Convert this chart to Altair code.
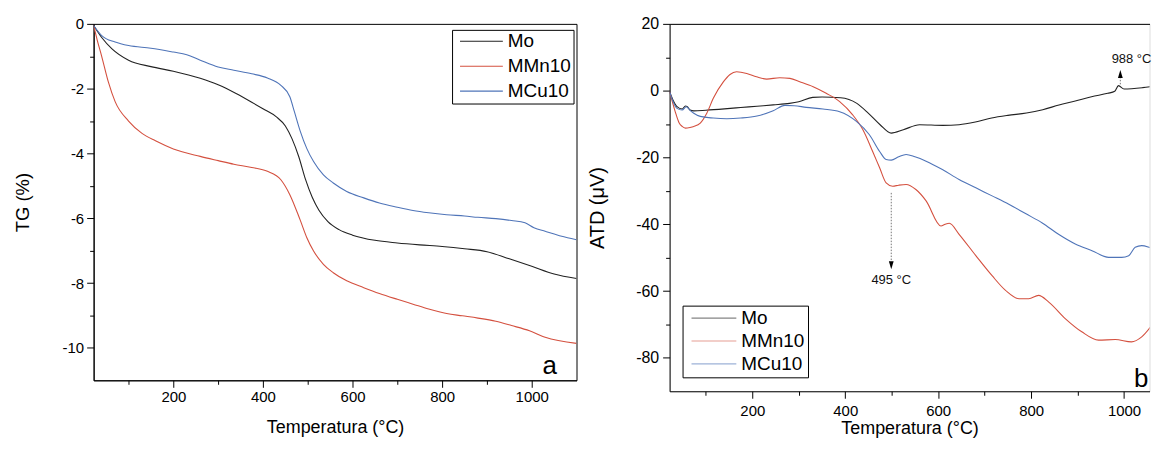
import altair as alt
import pandas as pd

FONT = "Liberation Sans"
series = ["Mo", "MMn10", "MCu10"]
colors = ["#222222", "#d4503f", "#4f74b8"]

# ---------- TG (panel a) ----------
tg_mo_T = [22, 40, 63, 100, 150, 200, 260, 300, 340, 375, 400, 430, 450, 465, 480, 495, 510, 525, 545, 570, 600, 650, 700, 750, 800, 850, 900, 950, 1000, 1050, 1100]
tg_mo_v = [-0.05, -0.42, -0.77, -1.12, -1.32, -1.46, -1.68, -1.88, -2.15, -2.42, -2.62, -2.87, -3.15, -3.55, -4.1, -4.8, -5.35, -5.75, -6.1, -6.35, -6.52, -6.68, -6.76, -6.82, -6.87, -6.94, -7.03, -7.25, -7.48, -7.72, -7.86]

tg_mn_T = [22, 30, 40, 55, 70, 100, 130, 160, 200, 260, 300, 335, 375, 410, 440, 460, 483, 498, 513, 535, 557, 587, 625, 660, 700, 735, 770, 810, 845, 880, 920, 955, 995, 1030, 1100]
tg_mn_v = [-0.05, -0.5, -1.0, -1.8, -2.4, -3.0, -3.38, -3.61, -3.86, -4.09, -4.22, -4.33, -4.43, -4.55, -4.81, -5.27, -6.05, -6.6, -7.01, -7.42, -7.68, -7.93, -8.14, -8.32, -8.5, -8.65, -8.8, -8.94, -9.01, -9.08, -9.18, -9.31, -9.47, -9.67, -9.86]

tg_cu_T = [22, 40, 70, 100, 150, 200, 230, 260, 300, 335, 375, 410, 440, 460, 470, 483, 498, 513, 535, 557, 587, 625, 660, 700, 735, 770, 810, 850, 880, 920, 955, 985, 1005, 1030, 1080, 1100]
tg_cu_v = [-0.05, -0.36, -0.56, -0.67, -0.75, -0.87, -0.95, -1.12, -1.33, -1.43, -1.54, -1.67, -1.9, -2.25, -2.7, -3.3, -3.85, -4.25, -4.66, -4.91, -5.17, -5.37, -5.53, -5.66, -5.76, -5.83, -5.89, -5.93, -5.97, -6.01, -6.07, -6.14, -6.29, -6.4, -6.6, -6.66]

# ---------- ATD (panel b) ----------
atd_mo_T = [22, 30, 38, 49, 56, 60, 66, 74, 100, 140, 175, 210, 245, 280, 300, 330, 350, 390, 425, 450, 475, 499, 525, 560, 610, 645, 680, 715, 750, 790, 825, 860, 895, 930, 965, 980, 988, 1000, 1040, 1072]
atd_mo_v = [-0.3, -3.0, -4.8, -5.5, -4.6, -4.8, -5.8, -6.05, -5.85, -5.45, -5.05, -4.65, -4.25, -3.8, -3.3, -2.0, -1.9, -2.1, -3.8, -6.8, -10.2, -12.7, -11.7, -10.2, -10.4, -10.2, -9.4, -8.2, -7.4, -6.7, -5.7, -4.3, -3.1, -1.8, -0.8, -0.2, 1.5, 0.5, 0.9, 1.5]

atd_mn_T = [22, 34, 42, 49, 56, 66, 74, 88, 102, 116, 138, 152, 166, 188, 209, 231, 259, 281, 302, 331, 359, 388, 416, 438, 459, 474, 488, 502, 515, 531, 552, 574, 606, 615, 624, 645, 681, 716, 745, 774, 795, 816, 838, 874, 909, 945, 981, 1016, 1038, 1060, 1072]
atd_mn_v = [-0.3, -6.25, -9.5, -10.7, -11.2, -11.0, -10.7, -9.7, -6.75, -2.3, 2.7, 4.86, 5.65, 5.16, 4.17, 3.47, 3.87, 3.67, 2.68, 1.19, -0.79, -3.27, -7.24, -11.7, -18.2, -23.1, -27.6, -28.6, -28.3, -28.1, -29.6, -33.0, -40.5, -40.0, -39.7, -43.0, -49.4, -55.4, -59.8, -62.3, -62.3, -61.3, -63.3, -68.3, -72.2, -74.7, -74.5, -75.2, -73.7, -70.2, -67.8]

atd_cu_T = [22, 30, 38, 49, 58, 66, 74, 88, 116, 145, 175, 210, 245, 270, 290, 316, 352, 388, 424, 452, 474, 488, 499, 515, 531, 550, 574, 609, 645, 681, 716, 752, 788, 824, 859, 895, 931, 967, 995, 1010, 1024, 1038, 1060, 1072]
atd_cu_v = [-0.3, -3.5, -5.3, -5.8, -4.8, -5.9, -6.75, -7.7, -8.2, -8.4, -8.2, -7.6, -6.0, -4.4, -4.5, -5.0, -5.5, -6.3, -9.2, -13.2, -18.2, -20.6, -20.8, -19.8, -19.1, -19.8, -21.1, -23.6, -26.6, -29.1, -31.5, -34.0, -36.8, -39.6, -43.0, -45.9, -47.9, -49.9, -49.9, -49.4, -46.9, -46.4, -47.1, -47.4]

# annotations (panel b)
ann_rule_T = [499, 992]
ann_rule_v = [-30.6, 1.9]
ann_rule_v2 = [-51.0, 3.8]
ann_head_T = [499, 992]
ann_head_v = [-52.3, 5.0]
ann_head_dir = ["down", "up"]
ann_text_T = [499, 1016]
ann_text_v = [-56.8, 9.6]
ann_text = ["495 °C", "988 °C"]

# tick values
tg_x_major = [200, 400, 600, 800, 1000]
tg_x_minor = [100, 300, 500, 700, 900]
tg_y_major = [0, -2, -4, -6, -8, -10]
tg_y_minor = [-1, -3, -5, -7, -9]
atd_x_major = [200, 400, 600, 800, 1000]
atd_x_minor = [100, 300, 500, 700, 900]
atd_y_major = [20, 0, -20, -40, -60, -80]
atd_y_minor = [10, -10, -30, -50, -70]


def long_df(items):
    rows = []
    for name, T, v in items:
        for t, val in zip(T, v):
            rows.append({"T": t, "v": val, "s": name})
    return pd.DataFrame(rows)


tg_df = long_df([("Mo", tg_mo_T, tg_mo_v), ("MMn10", tg_mn_T, tg_mn_v), ("MCu10", tg_cu_T, tg_cu_v)])
atd_df = long_df([("Mo", atd_mo_T, atd_mo_v), ("MMn10", atd_mn_T, atd_mn_v), ("MCu10", atd_cu_T, atd_cu_v)])

color_scale = alt.Scale(domain=series, range=colors)


def major_axis(orient, values, title, lsize, tsize, lpad, tpad):
    return alt.Axis(orient=orient, values=values, title=title, grid=False,
                    tickSize=7, tickColor="black", domainColor="black",
                    labelFontSize=lsize, titleFontSize=tsize, labelPadding=lpad,
                    titlePadding=tpad, labelColor="black", titleColor="black",
                    labelFont=FONT, titleFont=FONT, titleFontWeight="normal",
                    labelExpr="toString(datum.value)")


def minor_axis(orient, values):
    return alt.Axis(orient=orient, values=values, title=None, labels=False,
                    grid=False, domain=False, tickSize=4, tickColor="black")


# ---------- panel a ----------
xs_a = alt.Scale(domain=[22, 1100], nice=False, zero=False)
ys_a = alt.Scale(domain=[-11, 0], nice=False, zero=False)

lines_a = alt.Chart(tg_df).mark_line(strokeWidth=1.1, interpolate="monotone", clip=True).encode(
    x=alt.X("T:Q", scale=xs_a, axis=major_axis("bottom", tg_x_major, "Temperatura (°C)", 15, 18, 2, 14)),
    y=alt.Y("v:Q", scale=ys_a, axis=major_axis("left", tg_y_major, "TG (%)", 15, 18.5, 3, 30)),
    color=alt.Color("s:N", scale=color_scale, sort=series, legend=alt.Legend(
        orient="none", legendX=360, legendY=6, title=None,
        symbolType="M-0.7,0H7.9", symbolSize=100, symbolStrokeWidth=1.1,
        labelFontSize=19, labelFont=FONT, labelColor="black", labelOffset=35,
        rowPadding=5, padding=2, strokeColor="black", fillColor="white")),
)

label_a_df = pd.DataFrame({"T": [1040], "v": [-10.8], "t": ["a"]})
label_a = alt.Chart(label_a_df).mark_text(fontSize=26, font=FONT, color="black", baseline="alphabetic", align="center").encode(
    x=alt.X("T:Q", scale=xs_a, axis=minor_axis("bottom", tg_x_minor)),
    y=alt.Y("v:Q", scale=ys_a, axis=minor_axis("left", tg_y_minor)),
    text="t:N",
)

panel_a = alt.layer(lines_a, label_a).resolve_axis(x="independent", y="independent").properties(
    width=485, height=358, view=alt.ViewBackground(stroke="black", strokeWidth=1))

# ---------- panel b ----------
b_xmax = 1054.8
xs_b = alt.Scale(domain=[22, b_xmax], nice=False, zero=False)
ys_b = alt.Scale(domain=[-90, 20], nice=False, zero=False)

lines_b = alt.Chart(atd_df).mark_line(strokeWidth=1.1, interpolate="monotone", clip=True).encode(
    x=alt.X("T:Q", scale=xs_b, axis=major_axis("bottom", atd_x_major, "Temperatura (°C)", 15, 18, 5.5, 1)),
    y=alt.Y("v:Q", scale=ys_b, axis=major_axis("left", atd_y_major, "ATD (μV)", 16, 20, 4, 28)),
    color=alt.Color("s:N", scale=color_scale, sort=series, legend=alt.Legend(
        orient="none", legendX=13, legendY=283, title=None,
        symbolType="M-0.7,0H8.3", symbolSize=100, symbolStrokeWidth=1.1, symbolOpacity=0.55,
        labelFontSize=19, labelFont=FONT, labelColor="black", labelOffset=37,
        rowPadding=3, padding=3, strokeColor="black", fillColor="white")),
)

rule_df = pd.DataFrame({"T": ann_rule_T, "v": ann_rule_v, "v2": ann_rule_v2})
rules_b = alt.Chart(rule_df).mark_rule(color="#777777", strokeWidth=1, strokeDash=[1.5, 1.5]).encode(
    x=alt.X("T:Q", scale=xs_b, axis=minor_axis("bottom", atd_x_minor)),
    y=alt.Y("v:Q", scale=ys_b, axis=minor_axis("left", atd_y_minor)),
    y2="v2:Q",
)

head_df = pd.DataFrame({"T": ann_head_T, "v": ann_head_v, "d": ann_head_dir})
heads_b = alt.Chart(head_df).mark_point(filled=True, color="black", opacity=1, size=64).encode(
    x=alt.X("T:Q", scale=xs_b, axis=alt.Axis(orient="top", labels=False, ticks=False, title=None,
                                              grid=False, domainColor="black")),
    y=alt.Y("v:Q", scale=ys_b, axis=None),
    shape=alt.Shape("d:N", scale=alt.Scale(domain=["down", "up"],
                                           range=["M-0.6,-1L0.6,-1L0,1Z", "M-0.6,1L0.6,1L0,-1Z"]),
                    legend=None),
)

text_df = pd.DataFrame({"T": ann_text_T, "v": ann_text_v, "t": ann_text})
texts_b = alt.Chart(text_df).mark_text(fontSize=13, font=FONT, color="#111111").encode(
    x=alt.X("T:Q", scale=xs_b, axis=None),
    y=alt.Y("v:Q", scale=ys_b, axis=None),
    text="t:N",
)

label_b_df = pd.DataFrame({"T": [b_xmax], "v": [-88.6], "t": ["b"]})
label_b = alt.Chart(label_b_df).mark_text(fontSize=26, font=FONT, color="black", baseline="alphabetic",
                                          align="right", dx=-1, clip=True).encode(
    x=alt.X("T:Q", scale=xs_b, axis=None),
    y=alt.Y("v:Q", scale=ys_b, axis=None),
    text="t:N",
)

panel_b = alt.layer(lines_b, rules_b, heads_b, texts_b, label_b).resolve_axis(
    x="independent", y="independent").properties(width=482, height=369)

chart = alt.hconcat(panel_a, panel_b, spacing=9.5).resolve_scale(color="independent").properties(
    padding={"left": 4, "top": 6, "right": 0, "bottom": 0},
    background="white",
).configure_view(stroke=None).configure(font=FONT)

chart.save("out.html", embed_options={"renderer": "svg", "actions": False})
